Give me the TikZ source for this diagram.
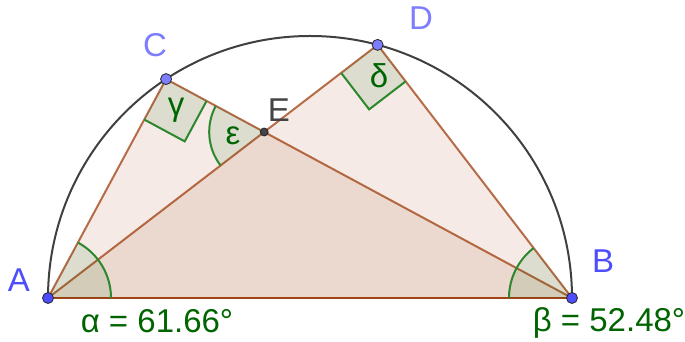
\documentclass[tikz,border=0pt]{standalone}
\usepackage{fontspec}
\setmainfont{Liberation Sans}
\usetikzlibrary{calc,angles}
\definecolor{brn}{RGB}{153,51,0}
\definecolor{agreen}{RGB}{0,100,0}
\definecolor{arcgreen}{RGB}{45,135,45}
\definecolor{freept}{RGB}{77,77,255}
\definecolor{pathpt}{RGB}{125,125,255}
\definecolor{arcgray}{RGB}{64,64,64}
\definecolor{depgray}{RGB}{68,68,68}
\begin{document}
\begin{tikzpicture}[x=1pt,y=1pt,
  seg/.style={draw=brn, draw opacity=0.7, line width=2pt},
  trifill/.style={fill=brn, fill opacity=0.1},
  angmark/.style={draw=arcgreen, line width=2pt, fill=agreen, fill opacity=0.1},
  ptfree/.style={circle, fill=freept, draw=black!85, line width=0.8pt, inner sep=0pt, minimum size=11pt},
  ptpath/.style={circle, fill=pathpt, draw=black!85, line width=0.8pt, inner sep=0pt, minimum size=11pt},
  ptdep/.style={circle, fill=depgray, draw=black!85, line width=0.8pt, inner sep=0pt, minimum size=8pt},
  lbl/.style={inner sep=0pt, anchor=base, font=\fontsize{33}{39}\selectfont},
]
\useasboundingbox (0,0) rectangle (685,342);
\coordinate (O) at (310,44);
\coordinate (A) at (48,44);
\coordinate (B) at (572,44);
\coordinate (C) at ($(O)+(123.32:262)$);
\coordinate (D) at ($(O)+(75.04:262)$);
\coordinate (E) at (intersection of A--D and B--C);
% triangle fills
\fill[trifill] (A) -- (B) -- (C) -- cycle;
\fill[trifill] (A) -- (B) -- (D) -- cycle;
% segments
\draw[seg] (A) -- (B);
\draw[seg] (A) -- (B);
\draw[seg] (B) -- (C);
\draw[seg] (C) -- (A);
\draw[seg] (A) -- (D);
\draw[seg] (D) -- (B);
% semicircle
\draw[arcgray, line width=2pt] (B) arc[start angle=0, end angle=180, radius=262];
% angle markers
\pic[angmark, angle radius=63] {angle=B--A--C};
\pic[angmark, angle radius=63] {angle=D--B--A};
\pic[angmark, angle radius=55] {angle=C--E--A};
\pic[angmark, angle radius=46] {right angle=A--C--B};
\pic[angmark, angle radius=46] {right angle=A--D--B};
% points
\node[ptfree] (pA) at (A) {};
\node[ptfree] (pB) at (B) {};
\node[ptpath] (pC) at (C) {};
\node[ptpath] (pD) at (D) {};
\node[ptdep] (pE) at (E) {};
% labels
\node[lbl, text=freept] (lA) at (19,50) {A};
\node[lbl, text=freept] (lB) at (603,69) {B};
\node[lbl, text=pathpt] (lC) at (155,285) {C};
\node[lbl, text=pathpt] (lD) at (421,312) {D};
\node[lbl, text=depgray] (lE) at (279,220) {E};
\node[lbl, text=agreen] (lalpha) at (157,9) {α = 61.66°};
\node[lbl, text=agreen] (lbeta) at (609,10) {β = 52.48°};
\node[lbl, text=agreen] (lgamma) at (176,226) {γ};
\node[lbl, text=agreen] (leps) at (233,197) {ε};
\node[lbl, text=agreen] (ldelta) at (379,254) {δ};
\end{tikzpicture}
\end{document}
